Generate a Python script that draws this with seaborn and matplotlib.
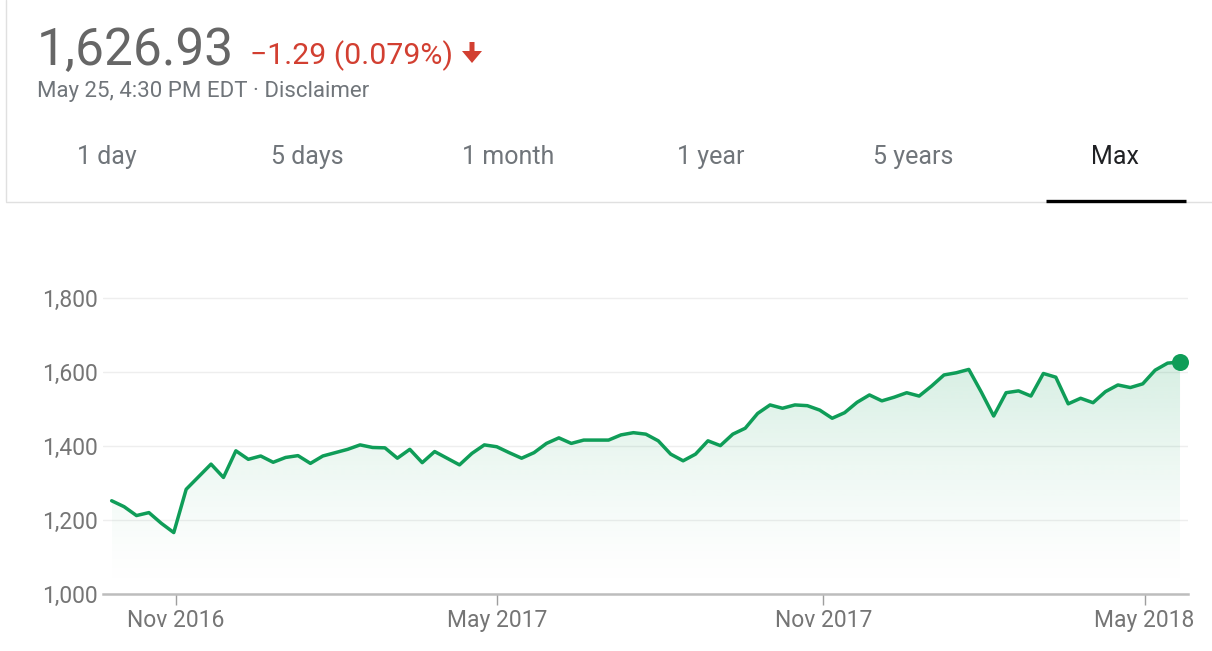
import matplotlib
matplotlib.use("Agg")
import matplotlib.pyplot as plt
import numpy as np
import pandas as pd
import seaborn as sns
import matplotlib.dates as mdates
from matplotlib.lines import Line2D
from matplotlib.patches import Polygon

# weekly closes (points dated by week start)
start_date = "2016-09-26"
end_date = "2018-05-21"
closes = [1252, 1236, 1212, 1220, 1191, 1166, 1283, 1317, 1351, 1315,
          1387, 1364, 1373, 1356, 1369, 1374, 1353, 1373, 1382, 1391,
          1403, 1396, 1395, 1367, 1391, 1355, 1385, 1367, 1349, 1380,
          1403, 1398, 1382, 1367, 1382, 1407, 1422, 1407, 1416, 1416,
          1416, 1430, 1436, 1432, 1414, 1378, 1360, 1378, 1414, 1401,
          1432, 1448, 1488, 1511, 1502, 1511, 1509, 1497, 1475, 1490,
          1518, 1538, 1522, 1532, 1544, 1535, 1562, 1592, 1598, 1607,
          1546, 1481, 1544, 1549, 1535, 1596, 1586, 1514, 1529, 1517,
          1547, 1565, 1558, 1568, 1605, 1624, 1626.93]

y_ticks = [1000, 1200, 1400, 1600, 1800]
x_tick_dates = ["2016-11-01", "2017-05-01", "2017-11-01", "2018-05-01"]
x_tick_labels = ["Nov 2016", "May 2017", "Nov 2017", "May 2018"]

price_text = "1,626.93"
change_text = "\u22121.29 (0.079%)"
subtitle = "May 25, 4:30 PM EDT \u00b7 Disclaimer"
tabs = ["1 day", "5 days", "1 month", "1 year", "5 years", "Max"]

df = pd.DataFrame({
    "date": pd.date_range(start_date, end_date, freq="7D"),
    "close": closes,
})

GREEN = "#0f9d58"
GREY = "#757575"

sns.set_theme(style="white")
plt.rcParams["font.family"] = ["Roboto", "DejaVu Sans"]

W, H = 1212, 651
fig = plt.figure(figsize=(W / 100, H / 100), dpi=100)


def fx(x):
    return x / W


def fy(y):
    return 1 - y / H


# header
fig.text(fx(37), fy(65), price_text, fontsize=37, color="#666666", va="baseline")
fig.text(fx(250), fy(64), change_text, fontsize=21.8, color="#d23f31", va="baseline")
arrow = Polygon([(fx(469.5), fy(42)), (fx(474.5), fy(42)), (fx(474.5), fy(51)),
                 (fx(482), fy(51)), (fx(472), fy(63)), (fx(462), fy(51)),
                 (fx(469.5), fy(51))], closed=True, transform=fig.transFigure,
                facecolor="#d23f31", edgecolor="none")
fig.add_artist(arrow)
fig.text(fx(37), fy(97), subtitle, fontsize=16, color="#70757a", va="baseline")

tab_x = [107, 307, 508, 711, 913, 1115]
for name, x in zip(tabs, tab_x):
    fig.text(fx(x), fy(157), name, fontsize=18,
             color="#202124" if name == "Max" else "#70757a",
             ha="center", va="center")

fig.add_artist(Line2D([fx(6), fx(6)], [fy(0), fy(201)], color="#e0e0e0",
                      lw=1, transform=fig.transFigure))
fig.add_artist(Line2D([fx(6), 1], [fy(201.5), fy(201.5)], color="#e0e0e0",
                      lw=1, transform=fig.transFigure))
fig.add_artist(Line2D([fx(1046), fx(1186)], [fy(200.5), fy(200.5)], color="black",
                      lw=2.4, transform=fig.transFigure, solid_capstyle="butt"))

# chart
y_bot, y_top = 1000, 1850
ax_top_px = 594 - (y_top - y_bot) * 0.37
ax = fig.add_axes([fx(103), fy(594), fx(1188 - 103), (594 - ax_top_px) / H])

x_num = mdates.date2num(df["date"])
verts = [(x_num[0], y_bot)] + list(zip(x_num, df["close"])) + [(x_num[-1], y_bot)]
clip = Polygon(verts, closed=True, facecolor="none", edgecolor="none")
ax.add_patch(clip)
grad = np.linspace(0, 1, 256).reshape(-1, 1)
rgba = np.zeros((256, 1, 4))
rgba[..., :3] = matplotlib.colors.to_rgb(GREEN)
rgba[..., 3] = 0.17 * grad ** 1.4
im = ax.imshow(rgba, extent=[x_num[0], x_num[-1], y_bot, df["close"].max()],
               origin="lower", aspect="auto", zorder=1, interpolation="bilinear")
im.set_clip_path(clip)

sns.lineplot(data=df, x="date", y="close", ax=ax, color=GREEN, lw=2.5, zorder=3)
sns.scatterplot(data=df.tail(1), x="date", y="close", ax=ax, color=GREEN,
                s=150, linewidth=0, zorder=4)

ax.set_xlim(pd.Timestamp("2016-09-21 03:00"), pd.Timestamp("2018-05-25 12:00"))
ax.set_ylim(y_bot, y_top)
ax.set_yticks(y_ticks, labels=[f"{v:,}" for v in y_ticks])
ax.set_xticks(pd.to_datetime(x_tick_dates), labels=x_tick_labels)
ax.set_xlabel("")
ax.set_ylabel("")

ax.yaxis.grid(True, color="#eeeeee", lw=1)
ax.xaxis.grid(False)
for side in ["top", "right", "left"]:
    ax.spines[side].set_visible(False)
ax.spines["bottom"].set_color("#bdbdbd")
ax.spines["bottom"].set_linewidth(1.8)
ax.tick_params(axis="y", length=0, pad=4, labelsize=16.5, labelcolor=GREY)
ax.tick_params(axis="x", length=8, width=1, color="#9e9e9e", direction="out",
               pad=3, labelsize=16.5, labelcolor=GREY, bottom=True)

fig.savefig("out.png", dpi=100, facecolor="white")
